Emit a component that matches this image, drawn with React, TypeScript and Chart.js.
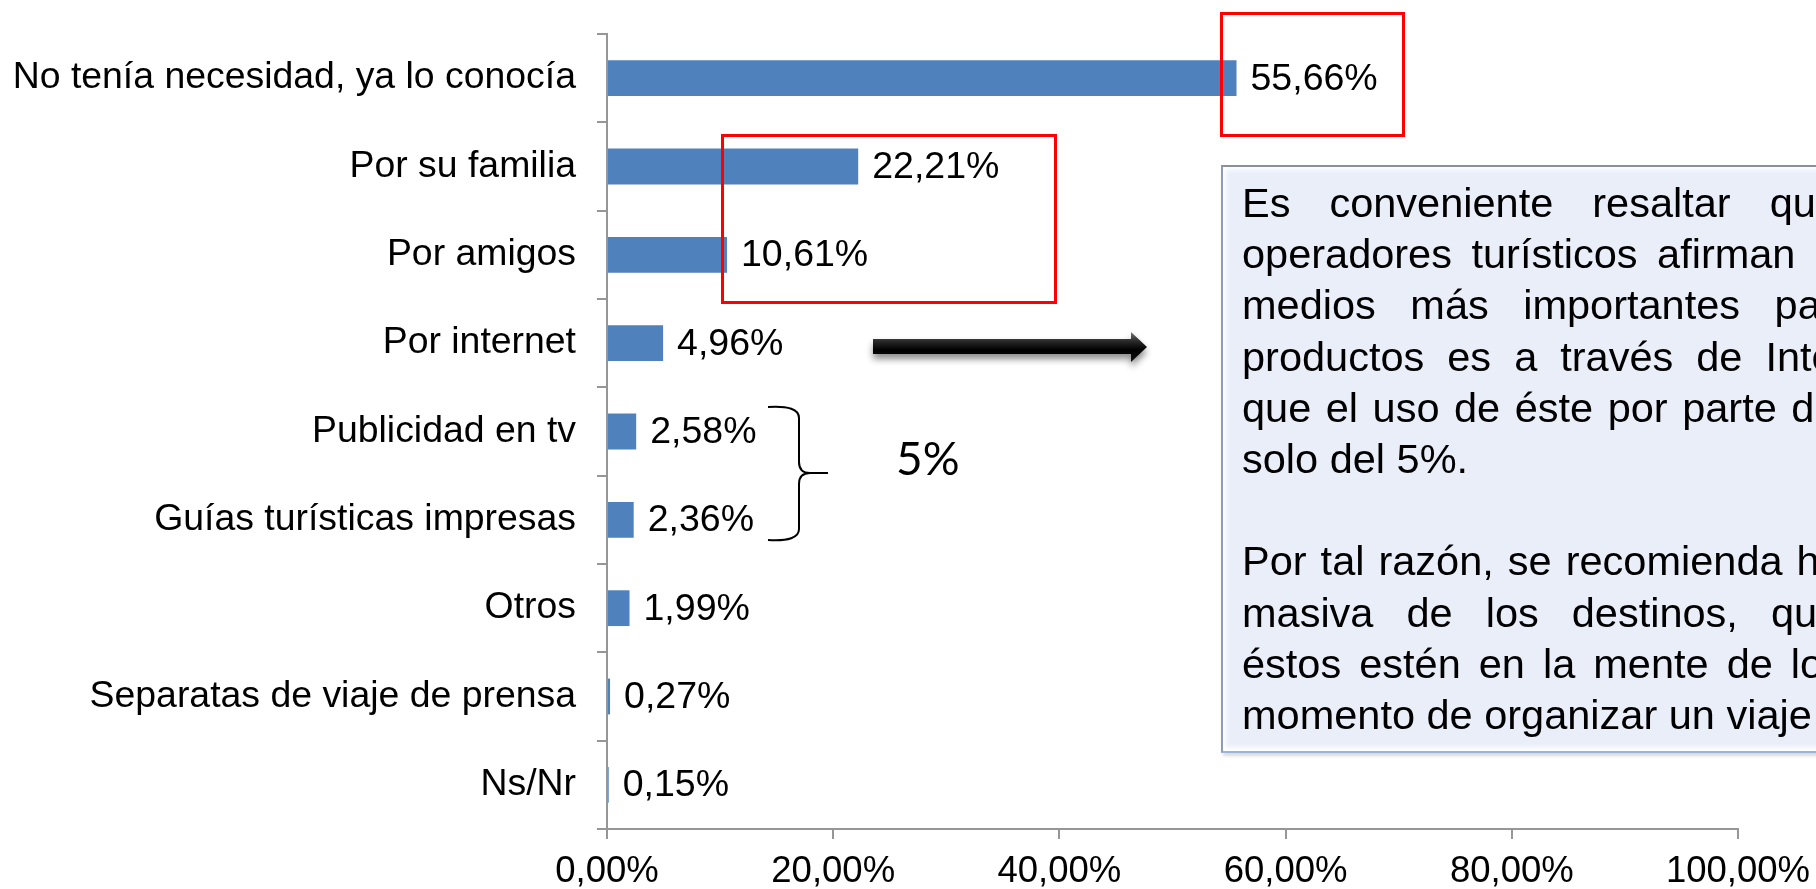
import React, { useEffect, useRef } from 'react';
import { Chart, registerables } from 'chart.js';

Chart.register(...registerables);

// ---- data ----
const categories = [
  'No tenía necesidad, ya lo conocía',
  'Por su familia',
  'Por amigos',
  'Por internet',
  'Publicidad en tv',
  'Guías turísticas impresas',
  'Otros',
  'Separatas de viaje de prensa',
  'Ns/Nr',
];
const values = [55.66, 22.21, 10.61, 4.96, 2.58, 2.36, 1.99, 0.27, 0.15];
const xTickValues = [0, 20, 40, 60, 80, 100];
const groupLabel = '5%';
const noteLines = [
  'Es conveniente resaltar que',
  'operadores turísticos afirman',
  'medios más importantes para',
  'productos es a través de Internet',
  'que el uso de éste por parte de',
  'solo del 5%.',
  '',
  'Por tal razón, se recomienda hacer',
  'masiva de los destinos, que',
  'éstos estén en la mente de los',
  'momento de organizar un viaje',
];
const noteWordSpacing = [27.5, 8, 23, 11.5, 3, 0, 0, 2.5, 21.5, 6.5, 0];

const fmtPct = (v: number) => v.toFixed(2).replace('.', ',') + '%';
const FONT = '"Liberation Sans", Arial, sans-serif';

const overlayPlugin = {
  id: 'overlay',
  afterDatasetsDraw(chart: any) {
    const ctx = chart.ctx;
    const meta = chart.getDatasetMeta(0);
    ctx.save();
    ctx.fillStyle = '#000';
    ctx.font = `37.5px ${FONT}`;
    ctx.textAlign = 'left';
    ctx.textBaseline = 'middle';
    meta.data.forEach((el: any, i: number) => {
      ctx.fillText(fmtPct(values[i]), el.x + 14, el.y + 1);
    });
    ctx.restore();
  },
  afterDraw(chart: any) {
    const ctx = chart.ctx;
    ctx.save();
    // red highlight boxes
    ctx.strokeStyle = '#FF0000';
    ctx.lineWidth = 3;
    ctx.strokeRect(1221.5, 13.5, 182, 122);
    ctx.strokeRect(722.5, 135.5, 333, 167);

    // arrow
    ctx.save();
    ctx.shadowColor = 'rgba(0,0,0,0.45)';
    ctx.shadowBlur = 7;
    ctx.shadowOffsetY = 5;
    const g = ctx.createLinearGradient(0, 332, 0, 362);
    g.addColorStop(0, '#7a7a7a');
    g.addColorStop(0.3, '#2a2a2a');
    g.addColorStop(0.6, '#000');
    g.addColorStop(1, '#111');
    ctx.fillStyle = g;
    ctx.beginPath();
    ctx.moveTo(873, 339);
    ctx.lineTo(1131, 339);
    ctx.lineTo(1131, 332);
    ctx.lineTo(1147, 347);
    ctx.lineTo(1131, 362);
    ctx.lineTo(1131, 354);
    ctx.lineTo(873, 354);
    ctx.closePath();
    ctx.fill();
    ctx.restore();

    // brace
    ctx.strokeStyle = '#000';
    ctx.lineWidth = 2;
    ctx.beginPath();
    ctx.moveTo(768, 407);
    ctx.quadraticCurveTo(799, 405, 799, 418);
    ctx.lineTo(799, 462);
    ctx.quadraticCurveTo(799, 473, 810, 473);
    ctx.lineTo(828, 473);
    ctx.moveTo(810, 473);
    ctx.quadraticCurveTo(799, 473, 799, 484);
    ctx.lineTo(799, 529);
    ctx.quadraticCurveTo(799, 542, 768, 540);
    ctx.stroke();

    // group label
    ctx.fillStyle = '#000';
    ctx.font = '46px Lato, "Open Sans", sans-serif';
    ctx.textAlign = 'left';
    ctx.textBaseline = 'alphabetic';
    ctx.fillText(groupLabel, 896, 475);
    ctx.restore();
  },
};

export default function App() {
  const canvasRef = useRef<HTMLCanvasElement>(null);

  useEffect(() => {
    const canvas = canvasRef.current;
    if (!canvas) return;
    const chart = new Chart(canvas, {
      type: 'bar',
      data: {
        labels: categories,
        datasets: [
          {
            data: values,
            backgroundColor: '#4F81BD',
            borderWidth: 0,
            categoryPercentage: 1,
            barPercentage: 0.405,
          },
        ],
      },
      options: {
        indexAxis: 'y',
        responsive: false,
        animation: false,
        devicePixelRatio: 1,
        layout: { padding: { top: 34, right: 78, left: 0, bottom: 0 } },
        plugins: {
          legend: { display: false },
          tooltip: { enabled: false },
        },
        scales: {
          x: {
            min: 0,
            max: 100,
            afterBuildTicks: (s: any) => {
              s.ticks = xTickValues.map((v) => ({ value: v }));
            },
            ticks: {
              color: '#000',
              font: { family: FONT, size: 36.5 },
              padding: 11,
              maxRotation: 0,
              autoSkip: false,
              callback: (v: any) => fmtPct(Number(v)),
            },
            grid: {
              display: true,
              drawOnChartArea: false,
              drawTicks: true,
              tickLength: 10,
              color: '#969696',
              lineWidth: 2,
            },
            border: { display: true, color: '#969696', width: 2 },
            afterFit: (s: any) => {
              s.height = 60;
              s.paddingLeft = 0;
              s.paddingRight = 0;
            },
          },
          y: {
            ticks: {
              color: '#000',
              font: { family: FONT, size: 37.4 },
              padding: 21,
              autoSkip: false,
            },
            grid: {
              display: true,
              drawOnChartArea: false,
              drawTicks: true,
              tickLength: 10,
              color: '#969696',
              lineWidth: 2,
              offset: true,
            },
            border: { display: true, color: '#969696', width: 2 },
            afterFit: (s: any) => {
              s.width = 607;
              s.paddingTop = 0;
              s.paddingBottom = 0;
            },
          },
        },
      } as any,
      plugins: [overlayPlugin],
    });
    return () => chart.destroy();
  }, []);

  return (
    <div
      style={{
        position: 'fixed',
        left: 0,
        top: 0,
        width: 1816,
        height: 889,
        overflow: 'hidden',
        background: '#fff',
      }}
    >
      <canvas
        ref={canvasRef}
        width={1816}
        height={889}
        style={{ position: 'absolute', left: 0, top: 0, width: 1816, height: 889 }}
      />
      <div
        style={{
          position: 'absolute',
          left: 1221,
          top: 165,
          width: 760,
          height: 588,
          boxSizing: 'border-box',
          background: '#E9EEF9',
          borderTop: '2px solid #8a8f99',
          borderLeft: '2px solid #8d9cb8',
          borderBottom: '2px solid #9fb3d6',
          boxShadow:
            'inset 3px 3px 4px rgba(255,255,255,0.9), inset 0 -4px 4px rgba(255,255,255,0.9), 2px 3px 3px rgba(0,0,0,0.15)',
          padding: '10px 0 0 19px',
          fontFamily: FONT,
          fontSize: 41.5,
          lineHeight: '51.2px',
          color: '#000',
        }}
      >
        {noteLines.map((t, i) => (
          <div key={i} style={{ whiteSpace: 'pre', wordSpacing: noteWordSpacing[i], height: 51.2 }}>
            {t}
          </div>
        ))}
      </div>
    </div>
  );
}
